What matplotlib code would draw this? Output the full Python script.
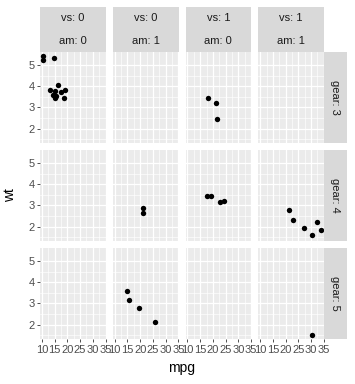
import matplotlib.pyplot as plt
import numpy as np

plt.rcParams['font.family'] = ['Liberation Sans', 'DejaVu Sans']

# mtcars: mpg, wt, vs, am, gear
mpg = [21.0, 21.0, 22.8, 21.4, 18.7, 18.1, 14.3, 24.4, 22.8, 19.2, 17.8,
       16.4, 17.3, 15.2, 10.4, 10.4, 14.7, 32.4, 30.4, 33.9, 21.5, 15.5,
       15.2, 13.3, 19.2, 27.3, 26.0, 30.4, 15.8, 19.7, 15.0, 21.4]
wt = [2.620, 2.875, 2.320, 3.215, 3.440, 3.460, 3.570, 3.190, 3.150, 3.440,
      3.440, 4.070, 3.730, 3.780, 5.250, 5.424, 5.345, 2.200, 1.615, 1.835,
      2.465, 3.520, 3.435, 3.840, 3.845, 1.935, 2.140, 1.513, 3.170, 2.770,
      3.570, 2.780]
vs = [0, 0, 1, 1, 0, 1, 0, 1, 1, 1, 1, 0, 0, 0, 0, 0, 0, 1, 1, 1, 1, 0,
      0, 0, 0, 1, 0, 1, 0, 0, 0, 1]
am = [1, 1, 1, 0, 0, 0, 0, 0, 0, 0, 0, 0, 0, 0, 0, 0, 0, 1, 1, 1, 0, 0,
      0, 0, 0, 1, 1, 1, 1, 1, 1, 1]
gear = [4, 4, 4, 3, 3, 3, 3, 4, 4, 4, 4, 3, 3, 3, 3, 3, 3, 4, 4, 4, 3, 3,
        3, 3, 3, 4, 5, 5, 5, 5, 5, 4]

col_keys = [(0, 0), (0, 1), (1, 0), (1, 1)]
row_keys = [3, 4, 5]
x_ticks = [10, 15, 20, 25, 30, 35]
y_ticks = [2, 3, 4, 5]

mpg = np.array(mpg)
wt = np.array(wt)
vs = np.array(vs)
am = np.array(am)
gear = np.array(gear)

W, H = 355, 384
fig = plt.figure(figsize=(W / 100, H / 100), dpi=100)
fig.patch.set_facecolor('white')

def box(x0, y0, x1, y1):
    # pixel box (top-left origin) -> figure fraction
    return [x0 / W, 1 - y1 / H, (x1 - x0) / W, (y1 - y0) / H]

# ggplot-style limits with 5% expansion
xr = mpg.max() - mpg.min()
yr = wt.max() - wt.min()
xlim = (mpg.min() - 0.05 * xr, mpg.max() + 0.05 * xr)
ylim = (wt.min() - 0.05 * yr, wt.max() + 0.05 * yr)

left, right = 40, 324
top, bottom = 52, 339
gap = 7
pw = (right - left - 3 * gap) / 4
ph = (bottom - top - 2 * gap) / 3
strip_bg = '#D9D9D9'
panel_bg = '#EBEBEB'

for i, g in enumerate(row_keys):
    for j, (v, a) in enumerate(col_keys):
        x0 = left + j * (pw + gap)
        y0 = top + i * (ph + gap)
        ax = fig.add_axes(box(x0, y0, x0 + pw, y0 + ph))
        ax.set_facecolor(panel_bg)
        for s in ax.spines.values():
            s.set_visible(False)
        ax.set_xlim(xlim)
        ax.set_ylim(ylim)
        ax.set_xticks(x_ticks)
        ax.set_yticks(y_ticks)
        ax.set_xticks([t + 2.5 for t in x_ticks[:-1]], minor=True)
        ax.set_yticks([t + 0.5 for t in y_ticks[:-1]] + [1.5], minor=True)
        ax.grid(True, which='major', color='white', linewidth=0.9)
        ax.grid(True, which='minor', color='white', linewidth=0.45)
        ax.set_axisbelow(True)
        ax.tick_params(which='minor', length=0)
        ax.tick_params(which='major', length=2.5, width=0.6, color='#333333',
                       labelsize=8, labelcolor='#4D4D4D', pad=1.5)
        if j > 0:
            ax.tick_params(axis='y', length=0, labelleft=False)
        if i < 2:
            ax.tick_params(axis='x', length=0, labelbottom=False)
        m = (gear == g) & (vs == v) & (am == a)
        ax.scatter(mpg[m], wt[m], s=15, color='black', linewidths=0,
                   zorder=3, clip_on=False)

        if i == 0:
            sh = top - 7
            for k, (name, val) in enumerate([('vs', v), ('am', a)]):
                sy0 = 7 + k * sh / 2
                sax = fig.add_axes(box(x0, sy0, x0 + pw, sy0 + sh / 2))
                sax.set_facecolor(strip_bg)
                sax.set_xticks([])
                sax.set_yticks([])
                for s in sax.spines.values():
                    s.set_visible(False)
                sax.text(0.5, 0.5, f'{name}: {val}', ha='center', va='center',
                         fontsize=8, color='#1A1A1A', transform=sax.transAxes)
        if j == 3:
            rax = fig.add_axes(box(right, y0, right + 23, y0 + ph))
            rax.set_facecolor(strip_bg)
            rax.set_xticks([])
            rax.set_yticks([])
            for s in rax.spines.values():
                s.set_visible(False)
            rax.text(0.5, 0.5, f'gear: {g}', ha='center', va='center',
                     rotation=-90, fontsize=8, color='#1A1A1A',
                     transform=rax.transAxes)

fig.text(10 / W, 1 - (top + bottom) / 2 / H, 'wt', rotation=90,
         ha='center', va='center', fontsize=10)
fig.text((left + right) / 2 / W, 1 - 368 / H, 'mpg',
         ha='center', va='center', fontsize=10)

fig.savefig('out.png', dpi=100)
